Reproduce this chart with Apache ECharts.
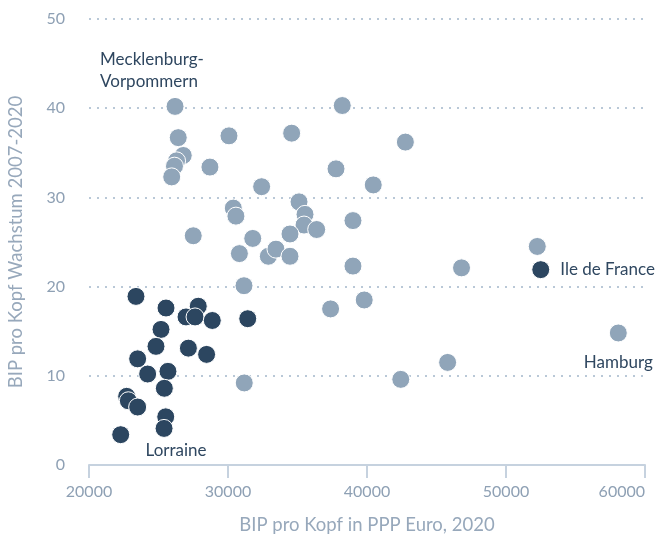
<!DOCTYPE html>
<html>
<head>
<meta charset="utf-8">
<script src="https://cdn.jsdelivr.net/npm/echarts@6/dist/echarts.min.js"></script>
<style>
  html, body { margin: 0; padding: 0; background: #fff; }
  #chart { width: 661px; height: 536px; }
</style>
</head>
<body>
<div id="chart"></div>
<script>
// BIP pro Kopf (PPP Euro, 2020) vs. Wachstum 2007-2020
const regionenHell = [
  [26190, 40.2], [26420, 36.7], [26780, 34.7], [26300, 34.1], [26150, 33.5],
  [25950, 32.3], [30070, 36.9], [28700, 33.4], [34580, 37.2], [32420, 31.2],
  [37770, 33.2], [30380, 28.8], [30570, 27.9], [35110, 29.5], [35540, 28.1],
  [35470, 26.9], [36380, 26.4], [27500, 25.7], [31780, 25.4], [34460, 25.9],
  [38220, 40.3], [42760, 36.2], [40450, 31.4], [38990, 27.4], [30820, 23.7],
  [32900, 23.4], [33450, 24.2], [34460, 23.4], [31150, 20.1], [31170, 9.2],
  [37380, 17.5], [38990, 22.3], [46800, 22.1], [39800, 18.5], [45800, 11.5],
  [42430, 9.6], [52250, 24.5], [58080, 14.8]
];
const regionenDunkel = [
  [23380, 18.9], [25540, 17.6], [27860, 17.8], [26980, 16.6], [27630, 16.6],
  [28870, 16.2], [31420, 16.4], [25180, 15.2], [24820, 13.3], [27150, 13.1],
  [28460, 12.4], [23500, 11.9], [24220, 10.2], [25680, 10.5], [25420, 8.6],
  [22710, 7.7], [22830, 7.2], [23500, 6.5], [25520, 5.4], [25400, 4.1],
  [22280, 3.4], [52500, 21.9]
];
const xTicks = [20000, 30000, 40000, 50000, 60000];
const yTicks = [0, 10, 20, 30, 40, 50];
const xTitel = 'BIP pro Kopf in PPP Euro, 2020';
const yTitel = 'BIP pro Kopf Wachstum 2007-2020';
// annotated regions: [series, index in series, text]
const beschriftungen = [
  ['hell', 0, 'Mecklenburg-\nVorpommern'],
  ['hell', 37, 'Hamburg'],
  ['dunkel', 19, 'Lorraine'],
  ['dunkel', 21, 'Ile de France']
];

const FONT = 'Lato';
const labelStyles = {
  'Mecklenburg-\nVorpommern': { position: 'top', offset: [-75, -4], align: 'left', distance: 0 },
  'Hamburg': { position: 'bottom', offset: [0, 4] },
  'Lorraine': { position: 'bottom', offset: [12, -3] },
  'Ile de France': { position: 'right', distance: 10 }
};

function buildData(points, key) {
  return points.map((p, i) => {
    const b = beschriftungen.find(x => x[0] === key && x[1] === i);
    if (!b) return p;
    const s = labelStyles[b[2]];
    return {
      value: p,
      label: Object.assign({
        show: true,
        formatter: b[2],
        color: '#2f4760',
        fontFamily: FONT,
        fontSize: 17,
        lineHeight: 22
      }, s)
    };
  });
}

const chart = echarts.init(document.getElementById('chart'));
chart.setOption({
  animation: false,
  grid: { left: 89, right: 16, top: 19, bottom: 71, outerBoundsMode: 'none' },
  xAxis: {
    type: 'value',
    min: xTicks[0],
    max: xTicks[xTicks.length - 1],
    interval: 10000,
    name: xTitel,
    nameLocation: 'middle',
    nameGap: 51,
    nameTextStyle: { color: '#97a8bb', fontFamily: FONT, fontSize: 18.5 },
    axisLine: { show: true, lineStyle: { color: '#c6d2df', width: 2 } },
    axisTick: { show: true, length: 13, lineStyle: { color: '#c6d2df', width: 2 } },
    axisLabel: {
      color: '#8ea0b4', fontFamily: FONT, fontSize: 16, margin: 19,
      alignMaxLabel: 'right', formatter: v => String(v)
    },
    splitLine: { show: false }
  },
  yAxis: {
    type: 'value',
    min: yTicks[0],
    max: yTicks[yTicks.length - 1],
    interval: 10,
    name: yTitel,
    nameLocation: 'middle',
    nameGap: 63,
    nameTextStyle: { color: '#97a8bb', fontFamily: FONT, fontSize: 18.5 },
    axisLine: { show: false },
    axisTick: { show: false },
    axisLabel: { color: '#8ea0b4', fontFamily: FONT, fontSize: 16, margin: 24 },
    splitLine: { show: true, lineStyle: { color: '#b9c8d7', width: 2, type: [2, 6] } }
  },
  series: [
    {
      type: 'scatter',
      data: buildData(regionenDunkel, 'dunkel'),
      symbolSize: 18,
      itemStyle: { color: '#2c4660', borderColor: '#fff', borderWidth: 1, opacity: 1 }
    },
    {
      type: 'scatter',
      data: buildData(regionenHell, 'hell'),
      symbolSize: 18,
      itemStyle: { color: '#90a5b9', borderColor: '#fff', borderWidth: 1, opacity: 1 }
    }
  ]
});
</script>
</body>
</html>
